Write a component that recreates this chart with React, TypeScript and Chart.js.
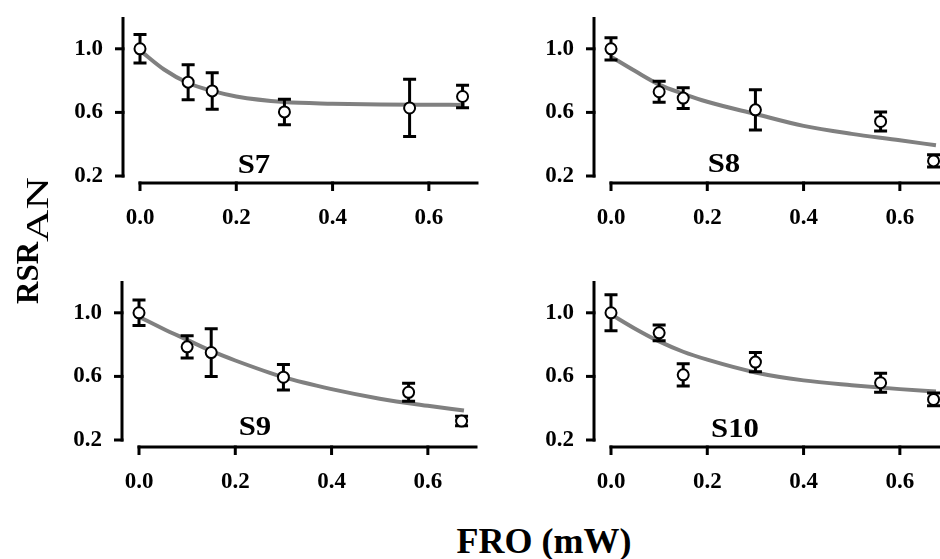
import React, { useEffect, useRef } from "react";
import { Chart, registerables } from "chart.js";

Chart.register(...registerables);

// ---------- data ----------
const X_VALUES = [0, 0.1, 0.15, 0.3, 0.56, 0.67];

const S7_Y = [1.0, 0.79, 0.735, 0.603, 0.628, 0.7];
const S7_ERR = [0.09, 0.11, 0.115, 0.08, 0.18, 0.07];
const S8_Y = [1.0, 0.73, 0.69, 0.616, 0.543, 0.295];
const S8_ERR = [0.07, 0.066, 0.065, 0.126, 0.06, 0.038];
const S9_Y = [1.0, 0.786, 0.75, 0.595, 0.5, 0.319];
const S9_ERR = [0.08, 0.07, 0.15, 0.08, 0.057, 0.03];
const S10_Y = [1.0, 0.874, 0.61, 0.69, 0.56, 0.455];
const S10_ERR = [0.113, 0.05, 0.07, 0.06, 0.06, 0.04];

const FIT_X = [0, 0.05, 0.1, 0.15, 0.2, 0.3, 0.4, 0.5, 0.6, 0.675];
const S7_FIT = [0.99, 0.87, 0.785, 0.735, 0.7, 0.665, 0.655, 0.65, 0.648, 0.647];
const S8_FIT = [0.95, 0.86, 0.775, 0.717, 0.667, 0.59, 0.515, 0.465, 0.425, 0.393];
const S9_FIT = [0.975, 0.9, 0.83, 0.76, 0.7, 0.595, 0.52, 0.46, 0.415, 0.385];
const S10_FIT = [0.99, 0.9, 0.82, 0.755, 0.705, 0.625, 0.575, 0.545, 0.52, 0.505];

const Y_TICKS = [0.2, 0.6, 1.0];
const X_TICKS = [0.0, 0.2, 0.4, 0.6];
const Y_MIN = 0.2;
const Y_MAX = 1.2;
const X_MIN = 0;
const X_MAX = 0.7;

const PANEL_NAMES = ["S7", "S8", "S9", "S10"];

// ---------- layout ----------
const FONT = '"Liberation Serif", "Times New Roman", Times, serif';
const CANVAS_W = 447;
const CANVAS_H = 229;
const Y_SCALE_W = 100;
const X_SCALE_H = 60;
const PAD_TOP = 10;
const PAD_RIGHT = 10;

type PanelDef = {
  name: string;
  ys: number[];
  err: number[];
  fit: number[];
  left: number;
  top: number;
  labelX: number;
  labelTop: number;
};

const PANELS: PanelDef[] = [
  { name: PANEL_NAMES[0], ys: S7_Y, err: S7_ERR, fit: S7_FIT, left: 40, top: 7, labelX: 254, labelTop: 150 },
  { name: PANEL_NAMES[1], ys: S8_Y, err: S8_ERR, fit: S8_FIT, left: 511, top: 7, labelX: 724, labelTop: 149 },
  { name: PANEL_NAMES[2], ys: S9_Y, err: S9_ERR, fit: S9_FIT, left: 39, top: 271, labelX: 255, labelTop: 412 },
  { name: PANEL_NAMES[3], ys: S10_Y, err: S10_ERR, fit: S10_FIT, left: 511, top: 271, labelX: 735, labelTop: 414 },
];

function makePlugin(err: number[]) {
  return {
    id: "detachedAxes",
    beforeDatasetsDraw(chart: any) {
      const ctx = chart.ctx;
      const xs = chart.scales.x;
      const ys = chart.scales.y;
      const area = chart.chartArea;
      ctx.save();
      ctx.strokeStyle = "#000";
      ctx.lineWidth = 3;
      ctx.lineCap = "butt";
      // y axis (detached to the left)
      const ax = area.left - 17;
      const yTop = ys.getPixelForValue(Y_MAX);
      const yBot = ys.getPixelForValue(Y_MIN);
      ctx.beginPath();
      ctx.moveTo(ax, yTop);
      ctx.lineTo(ax, yBot + 1.5);
      ctx.stroke();
      Y_TICKS.forEach((v) => {
        const py = ys.getPixelForValue(v);
        ctx.beginPath();
        ctx.moveTo(ax - 8, py);
        ctx.lineTo(ax + 1.5, py);
        ctx.stroke();
      });
      // x axis (detached below)
      const ay = area.bottom + 7;
      const x0 = xs.getPixelForValue(X_MIN);
      const x1 = xs.getPixelForValue(X_MAX);
      ctx.beginPath();
      ctx.moveTo(x0 - 1.5, ay);
      ctx.lineTo(x1 + 1.5, ay);
      ctx.stroke();
      X_TICKS.forEach((v) => {
        const px = xs.getPixelForValue(v);
        ctx.beginPath();
        ctx.moveTo(px, ay - 1.5);
        ctx.lineTo(px, ay + 8);
        ctx.stroke();
      });
      ctx.restore();
    },
    beforeDatasetDraw(chart: any, args: any) {
      if (args.index !== 0) return;
      const ctx = chart.ctx;
      const xs = chart.scales.x;
      const ys = chart.scales.y;
      const data = chart.data.datasets[0].data as { x: number; y: number }[];
      ctx.save();
      ctx.strokeStyle = "#000";
      ctx.lineWidth = 3;
      data.forEach((d, i) => {
        const px = xs.getPixelForValue(d.x);
        const pTop = ys.getPixelForValue(d.y + err[i]);
        const pBot = ys.getPixelForValue(d.y - err[i]);
        ctx.beginPath();
        ctx.moveTo(px, pTop);
        ctx.lineTo(px, pBot);
        ctx.moveTo(px - 6.5, pTop);
        ctx.lineTo(px + 6.5, pTop);
        ctx.moveTo(px - 6.5, pBot);
        ctx.lineTo(px + 6.5, pBot);
        ctx.stroke();
      });
      ctx.restore();
    },
  };
}

function Panel({ def }: { def: PanelDef }) {
  const ref = useRef<HTMLCanvasElement | null>(null);
  useEffect(() => {
    if (!ref.current) return;
    const tickFont = { family: FONT, size: 23, weight: "bold" as const };
    const chart = new Chart(ref.current, {
      type: "line",
      data: {
        datasets: [
          {
            data: X_VALUES.map((x, i) => ({ x, y: def.ys[i] })),
            showLine: false,
            pointRadius: 5.5,
            pointBorderWidth: 2,
            pointBackgroundColor: "#ffffff",
            pointBorderColor: "#000000",
            clip: false as any,
          },
          {
            data: FIT_X.map((x, i) => ({ x, y: def.fit[i] })),
            borderColor: "#808080",
            borderWidth: 4,
            pointRadius: 0,
            cubicInterpolationMode: "monotone",
            fill: false,
            clip: false as any,
          },
        ],
      },
      options: {
        responsive: false,
        animation: false,
        events: [],
        layout: { padding: { top: PAD_TOP, right: PAD_RIGHT, left: 0, bottom: 0 } },
        plugins: { legend: { display: false }, tooltip: { enabled: false }, title: { display: false } },
        scales: {
          x: {
            type: "linear",
            min: X_MIN,
            max: X_MAX,
            grid: { display: false, drawTicks: false },
            border: { display: false },
            afterBuildTicks: (s: any) => {
              s.ticks = X_TICKS.map((v) => ({ value: v }));
            },
            afterFit: (s: any) => {
              s.height = X_SCALE_H;
              s.paddingLeft = 0;
              s.paddingRight = 0;
            },
            ticks: {
              padding: 28,
              color: "#000",
              font: tickFont,
              maxRotation: 0,
              autoSkip: false,
              callback: (v: any) => Number(v).toFixed(1),
            },
          },
          y: {
            type: "linear",
            min: Y_MIN,
            max: Y_MAX,
            grid: { display: false, drawTicks: false },
            border: { display: false },
            afterBuildTicks: (s: any) => {
              s.ticks = Y_TICKS.map((v) => ({ value: v }));
            },
            afterFit: (s: any) => {
              s.width = Y_SCALE_W;
              s.paddingTop = 0;
              s.paddingBottom = 0;
            },
            ticks: {
              padding: 37,
              color: "#000",
              font: tickFont,
              autoSkip: false,
              callback: (v: any) => Number(v).toFixed(1),
            },
          },
        },
      },
      plugins: [makePlugin(def.err)],
    });
    return () => chart.destroy();
  }, [def]);
  return (
    <>
      <canvas
        ref={ref}
        width={CANVAS_W}
        height={CANVAS_H}
        style={{ position: "absolute", left: def.left, top: def.top, width: CANVAS_W, height: CANVAS_H }}
      />
      <div
        style={{
          position: "absolute",
          left: def.labelX - 50,
          top: def.labelTop,
          width: 100,
          textAlign: "center",
          fontFamily: FONT,
          fontWeight: "bold",
          fontSize: 28,
          lineHeight: "27px",
          color: "#000",
          whiteSpace: "nowrap",
          transform: "scaleX(1.1)",
        }}
      >
        {def.name}
      </div>
    </>
  );
}

export default function App() {
  return (
    <div
      style={{
        position: "absolute",
        left: 0,
        top: 0,
        width: 940,
        height: 559,
        overflow: "hidden",
        background: "#ffffff",
      }}
    >
      {PANELS.map((p) => (
        <Panel key={p.name} def={p} />
      ))}
      <div
        style={{
          position: "absolute",
          left: 11.5,
          top: 304,
          transform: "rotate(-90deg)",
          transformOrigin: "0 0",
          fontFamily: FONT,
          fontWeight: "bold",
          fontSize: 31,
          lineHeight: "31px",
          whiteSpace: "nowrap",
          color: "#000",
        }}
      >
        RSR
        <span
          style={{
            display: "inline-block",
            position: "relative",
            top: 10,
            fontWeight: "normal",
            transform: "scaleX(1.45)",
            transformOrigin: "0 50%",
          }}
        >
          AN
        </span>
      </div>
      <div
        style={{
          position: "absolute",
          left: 394,
          top: 523,
          width: 300,
          textAlign: "center",
          fontFamily: FONT,
          fontWeight: "bold",
          fontSize: 36,
          lineHeight: "36px",
          whiteSpace: "nowrap",
          color: "#000",
        }}
      >
        FRO (mW)
      </div>
    </div>
  );
}
